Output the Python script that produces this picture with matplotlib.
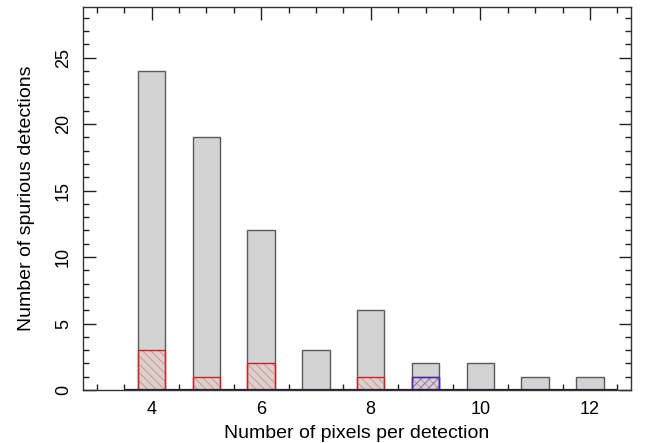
import numpy as np
import matplotlib
matplotlib.use("Agg")
import matplotlib.pyplot as plt
from matplotlib.ticker import MultipleLocator

plt.rcParams['font.family'] = ['Liberation Sans', 'DejaVu Sans']
plt.rcParams['hatch.linewidth'] = 0.7

# data
pixels = [4, 5, 6, 7, 8, 9, 10, 11, 12]
all_counts = [24, 19, 12, 3, 6, 2, 2, 1, 1]
red_counts = [3, 1, 2, 0, 1, 1, 0, 0, 0]
blue_counts = [0, 0, 0, 0, 0, 1, 0, 0, 0]

fig = plt.figure(figsize=(6.52, 4.43), dpi=100)
ax = fig.add_axes([83 / 652, 53 / 443, 548 / 652, 383 / 443])

width = 0.5
ax.bar(pixels, all_counts, width=width, color='#d3d3d3', edgecolor='#5a5a5a', linewidth=1.0, zorder=2)

x_red = [p for p, c in zip(pixels, red_counts) if c > 0]
y_red = [c for c in red_counts if c > 0]
ax.bar(x_red, y_red, width=width, facecolor='none', edgecolor='#f08878', hatch='\\\\\\\\', linewidth=0, zorder=3)
ax.bar(x_red, y_red, width=width, facecolor='none', edgecolor='#d42020', linewidth=1.0, zorder=4)

x_blue = [p for p, c in zip(pixels, blue_counts) if c > 0]
y_blue = [c for c in blue_counts if c > 0]
ax.bar(x_blue, y_blue, width=width, facecolor='none', edgecolor='#7070e0', hatch='////', linewidth=0, zorder=5)
ax.bar(x_blue, y_blue, width=width, facecolor='none', edgecolor='#3030c0', linewidth=1.0, zorder=6)

# histogram baseline
ax.hlines(0, pixels[0] - 0.5, pixels[-1] + 0.5, color='#2a1f3a', linewidth=1.6, zorder=7)

ax.set_xlim(2.75, 12.75)
ax.set_ylim(0, 28.8)
ax.xaxis.set_major_locator(MultipleLocator(2))
ax.xaxis.set_minor_locator(MultipleLocator(0.5))
ax.yaxis.set_major_locator(MultipleLocator(5))
ax.yaxis.set_minor_locator(MultipleLocator(1))
ax.tick_params(which='both', direction='in', top=True, right=True, labelsize=13, color='#222222')
ax.tick_params(which='major', length=9, width=1.0, pad=8)
ax.tick_params(which='minor', length=4.5, width=1.0)
for lab in ax.get_yticklabels():
    lab.set_rotation(90)
    lab.set_va('center')

for s in ax.spines.values():
    s.set_color('#333333')
    s.set_linewidth(1.0)

ax.set_xlabel('Number of pixels per detection', fontsize=14, labelpad=5)
ax.set_ylabel('Number of spurious detections', fontsize=14, labelpad=14)

fig.savefig('out.png', dpi=100)
